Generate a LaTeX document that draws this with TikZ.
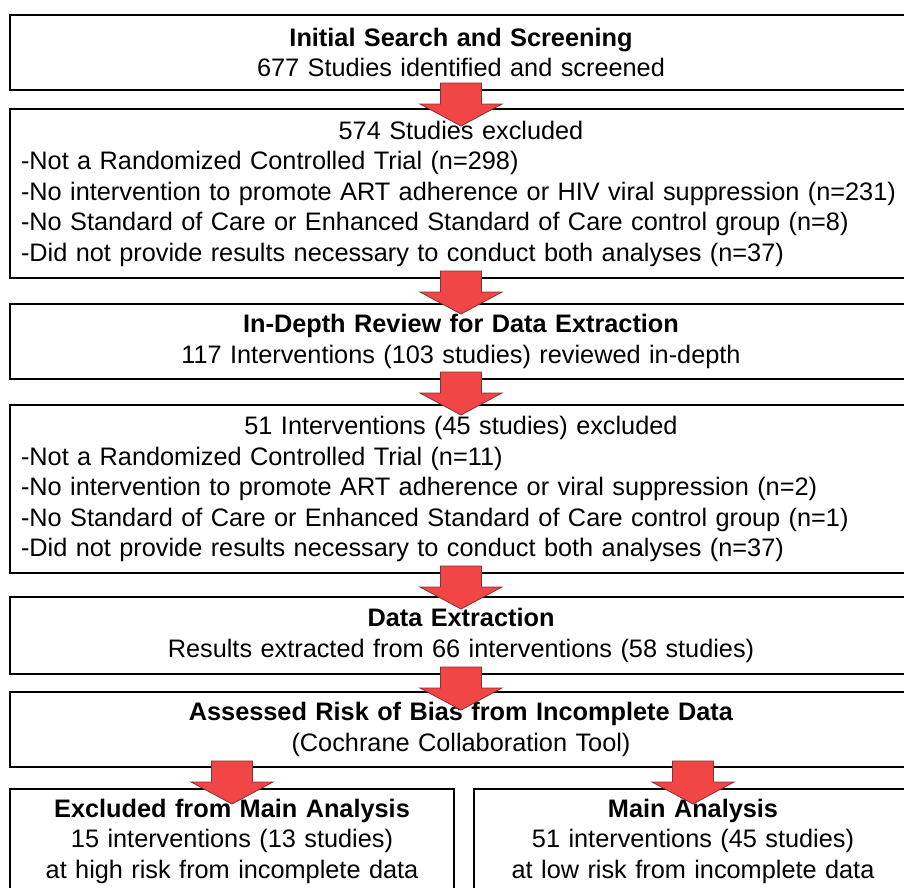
\documentclass[tikz,border=0pt]{standalone}
\usepackage{fontspec}
\setmainfont{Liberation Sans}
\usepackage{tikz}
\usetikzlibrary{calc}
\definecolor{arrowred}{RGB}{242,70,70}
\definecolor{arrowedge}{RGB}{130,50,50}
\tikzset{
  stagebox/.style={rectangle, draw=black, line width=2pt, fill=white,
    text width=880pt, inner xsep=11pt, inner ysep=0pt, align=center,
    font=\fontsize{25.3}{30.5}\selectfont},
  listbox/.style={stagebox, align=left},
  halfbox/.style={stagebox, text width=#1},
  downarrow/.pic={
    \draw[fill=arrowred, draw=arrowedge, line width=0.8pt]
      (-20.5,0) -- (20.5,0) -- (20.5,21) -- (41,21) -- (0,43)
      -- (-41,21) -- (-20.5,21) -- cycle;
  }
}
\begin{document}
\begin{tikzpicture}[x=1pt, y=-1pt]
  \useasboundingbox (0,0) rectangle (904,887);
  \clip (0,0) rectangle (904,887);

  % Stages
  \node[stagebox, anchor=north, minimum height=75pt] (search) at (461,14)
    {\textbf{Initial Search and Screening}\\677 Studies identified and screened};
  \node[listbox, anchor=north, minimum height=169pt] (excl1) at (461,108)
    {\centering 574 Studies excluded\par\raggedright
     -Not a Randomized Controlled Trial (n=298)\\
     \mbox{-No intervention to promote ART adherence or HIV viral suppression (n=231)}\\
     -No Standard of Care or Enhanced Standard of Care control group (n=8)\\
     -Did not provide results necessary to conduct both analyses (n=37)};
  \node[stagebox, anchor=north, minimum height=75pt] (review) at (461,303)
    {\textbf{In-Depth Review for Data Extraction}\\117 Interventions (103 studies) reviewed in-depth};
  \node[listbox, anchor=north, minimum height=168pt] (excl2) at (461,404)
    {\centering 51 Interventions (45 studies) excluded\par\raggedright
     -Not a Randomized Controlled Trial (n=11)\\
     -No intervention to promote ART adherence or viral suppression (n=2)\\
     -No Standard of Care or Enhanced Standard of Care control group (n=1)\\
     -Did not provide results necessary to conduct both analyses (n=37)};
  \node[stagebox, anchor=north, minimum height=77pt] (extract) at (461,596)
    {\textbf{Data Extraction}\\Results extracted from 66 interventions (58 studies)};
  \node[stagebox, anchor=north, minimum height=75pt] (bias) at (461,691)
    {\textbf{Assessed Risk of Bias from Incomplete Data}\\(Cochrane Collaboration Tool)};

  % Outcome boxes
  \node[halfbox=422pt, anchor=north, minimum height=104pt] (dropped) at (232,788)
    {\textbf{Excluded from Main Analysis}\\15 interventions (13 studies)\\at high risk from incomplete data};
  \node[halfbox=416pt, anchor=north, minimum height=104pt] (mainan) at (693,788)
    {\textbf{Main Analysis}\\51 interventions (45 studies)\\at low risk from incomplete data};

  % Arrows
  \pic at ([yshift=8pt]search.south) {downarrow};
  \pic at ([yshift=8pt]excl1.south) {downarrow};
  \pic at ([yshift=8pt]review.south) {downarrow};
  \pic at ([yshift=8pt]excl2.south) {downarrow};
  \pic at ([yshift=8pt]extract.south) {downarrow};
  \pic at ([yshift=7pt]bias.south -| dropped.north) {downarrow};
  \pic at ([yshift=7pt]bias.south -| mainan.north) {downarrow};
\end{tikzpicture}
\end{document}
